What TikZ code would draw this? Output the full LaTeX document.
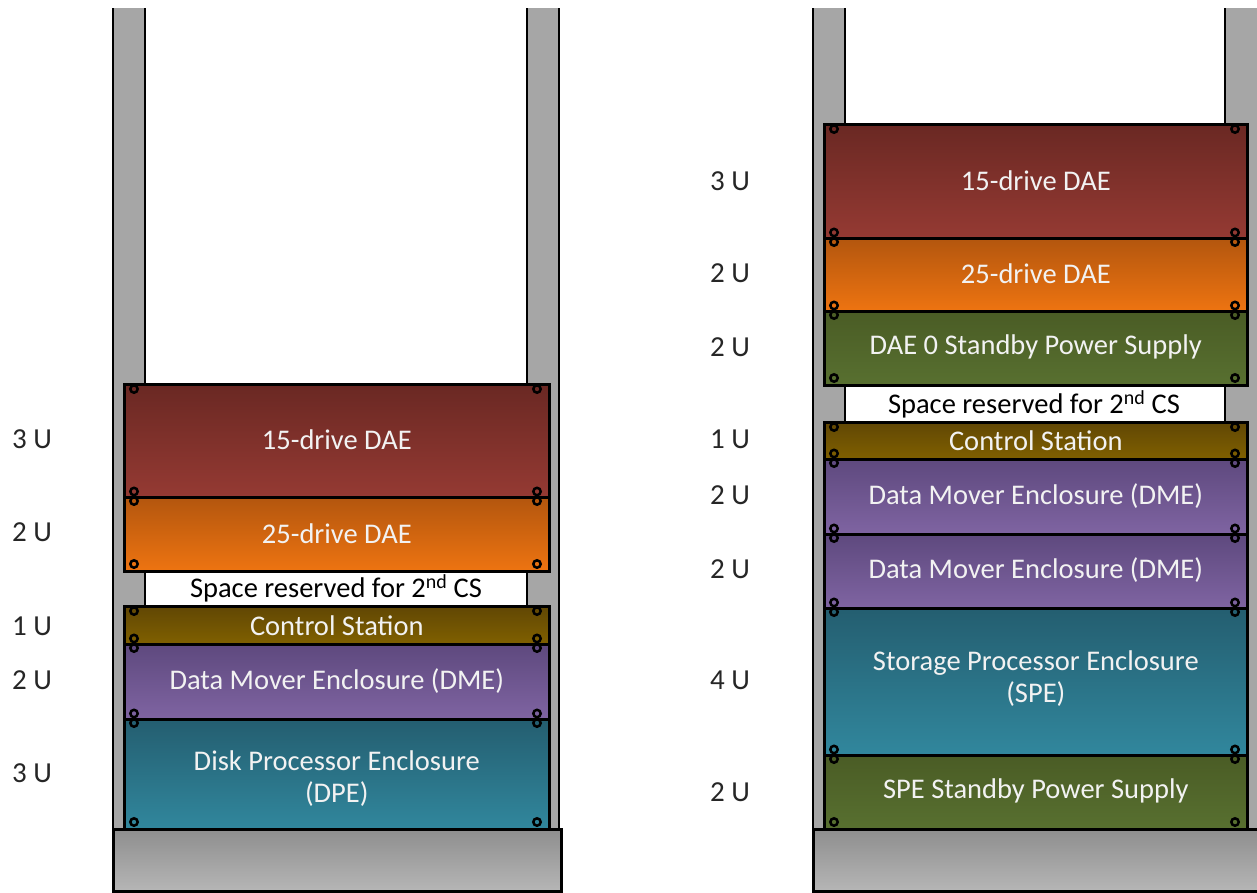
\documentclass[tikz,border=0pt]{standalone}
\usepackage{fontspec}
\setmainfont{Carlito}
\definecolor{postgray}{HTML}{A6A6A6}
\definecolor{daeAt}{HTML}{6A2823}\definecolor{daeAb}{HTML}{953A33}
\definecolor{daeBt}{HTML}{B3560E}\definecolor{daeBb}{HTML}{EE7411}
\definecolor{cst}{HTML}{614704}\definecolor{csb}{HTML}{806000}
\definecolor{dmet}{HTML}{5E497E}\definecolor{dmeb}{HTML}{7F64A2}
\definecolor{spet}{HTML}{245E70}\definecolor{speb}{HTML}{31879D}
\definecolor{spst}{HTML}{4A5C25}\definecolor{spsb}{HTML}{587030}
\definecolor{baset}{HTML}{8E8E8E}\definecolor{baseb}{HTML}{B6B6B6}
\definecolor{ulabel}{HTML}{262626}
\tikzset{
  unitbox/.style={draw=black, line width=2.6pt, inner sep=0pt, anchor=north west},
  unittext/.style={text=white!95!black, font=\fontsize{28.5}{32}\selectfont, align=center, inner sep=0pt},
  ulbl/.style={text=ulabel, font=\fontsize{29}{33}\selectfont},
  screw/.style={draw=black, line width=2.5pt},
  postline/.style={draw=black, line width=2.6pt},
  gaplbl/.style={text=black, font=\fontsize{28.5}{32}\selectfont}
}
% #1 name, #2 x, #3 ytop, #4 ybot, #5 width, #6 top colour, #7 bottom colour, #8 text, #9 text shift
\newcommand\rkbox[9]{%
  \pgfmathsetmacro\rkh{#4-#3}%
  \node[unitbox, minimum width=#5pt, minimum height=\rkh pt, top color=#6, bottom color=#7] (#1) at (#2,#3) {};
  \node[unittext] (#1-t) at ([yshift=#9pt]#1.center) {#8};
}
\begin{document}
\begin{tikzpicture}[x=1pt,y=-1pt]
\useasboundingbox (0,0) rectangle (1257,892);
\fill[white] (0,0) rectangle (1257,892);
% ---------- left rack ----------
\fill[postgray] (112,8) rectangle (146,890);
\fill[postgray] (526,8) rectangle (560,890);
\draw[postline] (113,8) -- (113,890);
\draw[postline] (145,8) -- (145,828);
\draw[postline] (527,8) -- (527,828);
\draw[postline] (559,8) -- (559,890);
\node[draw=black, line width=2.6pt, anchor=north west, minimum width=448pt, minimum height=62pt, top color=baset, bottom color=baseb, inner sep=0pt] (baseL) at (112,828) {};
\rkbox{daeAL}{123}{383}{496}{425}{daeAt}{daeAb}{15-drive DAE}{1}
\rkbox{daeBL}{123}{496}{570}{425}{daeBt}{daeBb}{25-drive DAE}{1}
\rkbox{csL}{123}{605}{643}{425}{cst}{csb}{Control Station}{0}
\rkbox{dmeL}{123}{643}{718}{425}{dmet}{dmeb}{Data Mover Enclosure (DME)}{1}
\rkbox{dpeL}{123}{718}{828}{425}{spet}{speb}{Disk Processor Enclosure\\(DPE)}{-4}
\node[gaplbl] (gapL) at (336,588) {Space reserved for 2\textsuperscript{nd} CS};
\foreach \yy in {389,491.5,501,564,611,638.5,648,713.5,723,822}{
  \draw[screw] (134,\yy) circle[radius=3.7];
  \draw[screw] (537,\yy) circle[radius=3.7];
}
\node[ulbl] (uL1) at (32,439) {3 U};
\node[ulbl] (uL2) at (32,532) {2 U};
\node[ulbl] (uL3) at (32,626) {1 U};
\node[ulbl] (uL4) at (32,680) {2 U};
\node[ulbl] (uL5) at (32,773) {3 U};
% ---------- right rack ----------
\fill[postgray] (812,8) rectangle (846,890);
\fill[postgray] (1224,8) rectangle (1258,890);
\draw[postline] (813,8) -- (813,890);
\draw[postline] (845,8) -- (845,828);
\draw[postline] (1225,8) -- (1225,828);
\node[draw=black, line width=2.6pt, anchor=north west, minimum width=446pt, minimum height=62pt, top color=baset, bottom color=baseb, inner sep=0pt] (baseR) at (812,828) {};
\rkbox{daeAR}{823}{123}{237}{423}{daeAt}{daeAb}{15-drive DAE}{1}
\rkbox{daeBR}{823}{237}{310}{423}{daeBt}{daeBb}{25-drive DAE}{1}
\rkbox{spsAR}{823}{310}{384}{423}{spst}{spsb}{DAE 0 Standby Power Supply}{1}
\rkbox{csR}{823}{421}{458}{423}{cst}{csb}{Control Station}{0}
\rkbox{dmeAR}{823}{458}{533}{423}{dmet}{dmeb}{Data Mover Enclosure (DME)}{1}
\rkbox{dmeBR}{823}{533}{607}{423}{dmet}{dmeb}{Data Mover Enclosure (DME)}{1}
\rkbox{speR}{823}{607}{754}{423}{spet}{speb}{Storage Processor Enclosure\\(SPE)}{3}
\rkbox{spsBR}{823}{754}{828}{423}{spst}{spsb}{SPE Standby Power Supply}{1}
\node[gaplbl] (gapR) at (1034,404) {Space reserved for 2\textsuperscript{nd} CS};
\foreach \yy in {129,232.5,242,305.5,315,378,427,453.5,463,528.5,538,602.5,612,749.5,759,822}{
  \draw[screw] (834,\yy) circle[radius=3.7];
  \draw[screw] (1235,\yy) circle[radius=3.7];
}
\node[ulbl] (uR1) at (730,181) {3 U};
\node[ulbl] (uR2) at (730,273) {2 U};
\node[ulbl] (uR3) at (730,347) {2 U};
\node[ulbl] (uR4) at (730,439) {1 U};
\node[ulbl] (uR5) at (730,495) {2 U};
\node[ulbl] (uR6) at (730,569) {2 U};
\node[ulbl] (uR7) at (730,680) {4 U};
\node[ulbl] (uR8) at (730,792) {2 U};
\end{tikzpicture}
\end{document}
